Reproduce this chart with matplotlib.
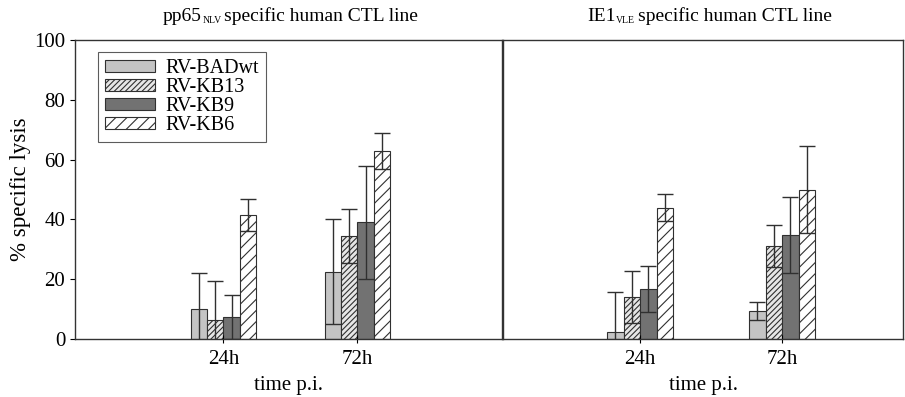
import numpy as np
import matplotlib
matplotlib.use("Agg")
from matplotlib import pyplot as plt

plt.rcParams['font.family'] = ['Liberation Serif', 'DejaVu Serif']
plt.rcParams['hatch.linewidth'] = 0.8

timepoints = ['24h', '72h']
viruses = ['RV-BADwt', 'RV-KB13', 'RV-KB9', 'RV-KB6']

# pp65 NLV panel: values per virus for [24h, 72h]
pp65_vals = [[10, 22.5], [6.3, 34.5], [7.4, 39], [41.5, 63]]
pp65_err = [[12, 17.5], [13, 9], [7.3, 19], [5.3, 6]]

# IE1 VLE panel
ie1_vals = [[2.3, 9.4], [14, 31], [16.7, 34.8], [44, 50]]
ie1_err = [[13.4, 3], [8.8, 7], [7.7, 12.7], [4.4, 14.5]]

colors = ['#c4c4c4', '#e6e6e6', '#727272', 'white']
hatches = [None, '//////', None, '///']

fig = plt.figure(figsize=(9.05, 3.97), dpi=100)
ax1 = fig.add_axes([0.0829, 0.146, 0.472, 0.753])
ax2 = fig.add_axes([0.5558, 0.146, 0.442, 0.753])

x = np.array([1, 2])


def draw_panel(ax, vals, errs, xlim, width):
    offsets = (np.arange(4) - 1.5) * width
    for i in range(4):
        ax.bar(x + offsets[i], vals[i], width, color=colors[i], hatch=hatches[i],
               edgecolor='#303030', linewidth=0.8, label=viruses[i],
               yerr=errs[i], error_kw=dict(ecolor='#303030', elinewidth=1, capsize=5.5, capthick=1))
    ax.set_xlim(*xlim)
    ax.set_ylim(0, 100)
    ax.set_xticks(x)
    ax.set_xticklabels(timepoints, fontsize=15)
    ax.tick_params(axis='x', direction='inout', length=6, pad=5)
    ax.set_xlabel('time p.i.', fontsize=15, labelpad=5)
    for s in ax.spines.values():
        s.set_linewidth(1.0)
        s.set_color('#333333')


def panel_title(ax, main, sub, rest, cx):
    # title with a small subscript, placed piece by piece
    t1 = ax.text(cx, 1.064, main, transform=ax.transAxes, fontsize=14, ha='left', va='baseline')
    t2 = ax.annotate(sub, xy=(1, 0), xycoords=t1, xytext=(0.5, 0), textcoords='offset points',
                     fontsize=7, va='bottom')
    ax.annotate(rest, xy=(1, 0), xycoords=(t2, t1), xytext=(2, 0), textcoords='offset points',
                fontsize=14, va='bottom')


draw_panel(ax1, pp65_vals, pp65_err, (-0.108, 3.08), 0.123)
draw_panel(ax2, ie1_vals, ie1_err, (0.035, 2.85), 0.116)

panel_title(ax1, 'pp65', 'NLV', 'specific human CTL line', 0.206)
panel_title(ax2, 'IE1', 'VLE', 'specific human CTL line', 0.21)

ax1.set_yticks([0, 20, 40, 60, 80, 100])
ax1.tick_params(axis='y', labelsize=15)
ax1.set_ylabel('% specific lysis', fontsize=16.5, labelpad=2)
ax2.set_yticks([])

leg = ax1.legend(loc='upper left', bbox_to_anchor=(0.054, 0.96), fontsize=14.5, frameon=True,
                 fancybox=False, edgecolor='#333333', handlelength=2.5, handleheight=0.55,
                 labelspacing=0.0, borderpad=0.35, handletextpad=0.5, borderaxespad=0)
leg.get_frame().set_linewidth(0.8)

fig.savefig('out.png', dpi=100)
